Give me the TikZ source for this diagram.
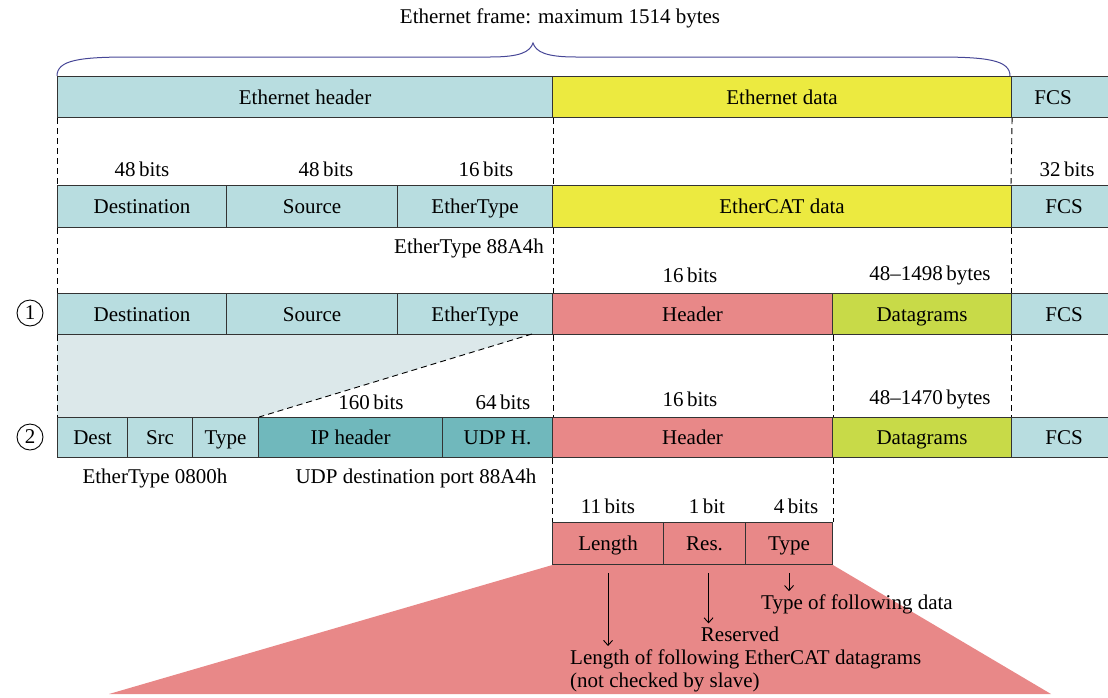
\documentclass[tikz,border=0pt]{standalone}
\usepackage{fontspec}
\setmainfont{Liberation Serif}
\usetikzlibrary{arrows.meta,backgrounds}

\definecolor{ethblue}{RGB}{184,221,224}
\definecolor{ethyellow}{RGB}{236,234,64}
\definecolor{hdrred}{RGB}{232,136,136}
\definecolor{dgreen}{RGB}{200,218,72}
\definecolor{ipteal}{RGB}{112,184,188}
\definecolor{zoomshade}{RGB}{220,232,234}
\definecolor{bracecol}{RGB}{70,70,150}

\tikzset{
  x=1pt, y=-1pt,
  txt/.style={font=\fontsize{21}{24}\selectfont, inner sep=0pt},
  field/.style={txt, draw=black!80, line width=1.1pt, anchor=north west,
                text height=15pt, text depth=1pt},
  guide/.style={draw=black, line width=0.9pt, dash pattern=on 6pt off 4pt},
  numcirc/.style={txt, circle, draw=black, line width=0.9pt, minimum size=26pt},
  arr/.style={draw=black, line width=0.9pt, shorten >=3pt,
              -{Straight Barb[length=5pt,width=9pt]}}
}

% field{name}{colour}{x1}{y1}{x2}{y2}{text}
\newcommand\field[7]{%
  \node[field, fill=#2, minimum width={#5pt-#3pt}, minimum height={#6pt-#4pt}] (#1) at (#3,#4) {#7};}

\begin{document}
\begin{tikzpicture}
\useasboundingbox (0,0) rectangle (1108,697);

% overall frame and brace
\node[txt] (title) at (560,18) {Ethernet frame: maximum 1514 bytes};
\draw[bracecol, line width=1pt] (57,76) .. controls (57,60) and (80,57) .. (130,57) -- (490,57)
  .. controls (520,57) and (530,52) .. (533,43) .. controls (536,52) and (546,57) .. (576,57)
  -- (937,57) .. controls (987,57) and (1010,60) .. (1010,76);

% row 0: Ethernet frame
\field{eh}{ethblue}{57}{76}{552}{117}{Ethernet header}
\field{ed}{ethyellow}{552}{76}{1011}{117}{Ethernet data}
\field{fcs0}{ethblue}{1011}{76}{1116}{117}{FCS\hspace*{22pt}}

% row 1: EtherCAT in Ethernet
\node[txt] (b1a) at (142,169) {48\,bits};
\node[txt] (b1b) at (326,169) {48\,bits};
\node[txt] (b1c) at (486,169) {16\,bits};
\node[txt] (b1d) at (1067,169) {32\,bits};
\field{dst1}{ethblue}{57}{185}{226}{227}{Destination}
\field{src1}{ethblue}{226}{185}{397}{227}{Source}
\field{et1}{ethblue}{397}{185}{552}{227}{EtherType}
\field{ecd1}{ethyellow}{552}{185}{1011}{227}{EtherCAT data}
\field{fcs1}{ethblue}{1011}{185}{1116}{227}{FCS}
\node[txt, anchor=east] (ety1) at (544,248) {EtherType 88A4h};

% row 2: variant 1
\node[numcirc] (c1) at (30,313) {1};
\node[txt] (b2a) at (690,275) {16\,bits};
\node[txt] (b2b) at (930,275) {48–1498\,bytes};
\field{dst2}{ethblue}{57}{293}{226}{334}{Destination}
\field{src2}{ethblue}{226}{293}{397}{334}{Source}
\field{et2}{ethblue}{397}{293}{552}{334}{EtherType}
\field{hdr2}{hdrred}{552}{293}{832}{334}{Header}
\field{dg2}{dgreen}{832}{293}{1011}{334}{Datagrams}
\field{fcs2}{ethblue}{1011}{293}{1116}{334}{FCS}

% row 3: variant 2 (UDP/IP)
\node[numcirc] (c2) at (30,437) {2};
\node[txt] (b3a) at (371,402) {160\,bits};
\node[txt] (b3b) at (503,402) {64\,bits};
\node[txt] (b3c) at (690,399) {16\,bits};
\node[txt] (b3d) at (930,399) {48–1470\,bytes};
\field{dst3}{ethblue}{57}{417}{127}{457}{Dest}
\field{src3}{ethblue}{127}{417}{192}{457}{Src}
\field{typ3}{ethblue}{192}{417}{258}{457}{Type}
\field{ip3}{ipteal}{258}{417}{442}{457}{IP header}
\field{udp3}{ipteal}{442}{417}{552}{457}{UDP H.}
\field{hdr3}{hdrred}{552}{417}{832}{457}{Header}
\field{dg3}{dgreen}{832}{417}{1011}{457}{Datagrams}
\field{fcs3}{ethblue}{1011}{417}{1116}{457}{FCS}
\node[txt] (ety3) at (155,478) {EtherType 0800h};
\node[txt] (udpp) at (416,478) {UDP destination port 88A4h};

% EtherCAT header detail
\node[txt] (b4a) at (608,506) {11\,bits};
\node[txt] (b4b) at (707,506) {1\,bit};
\node[txt] (b4c) at (796,506) {4\,bits};
\field{len}{hdrred}{552}{522}{663}{564}{Length}
\field{res}{hdrred}{663}{522}{745}{564}{Res.}
\field{typ}{hdrred}{745}{522}{832}{564}{Type}

\node[txt] (typtxt) at (857,604) {Type of following data};
\node[txt] (restxt) at (740,634) {Reserved};
\node[txt, anchor=north west, align=left] (lentxt) at (570,649)
  {Length of following EtherCAT datagrams\\(not checked by slave)};

\draw[arr] ([yshift=-8pt]len.south) -- (len.south |- lentxt.north);
\draw[arr] ([yshift=-8pt,xshift=4pt]res.south) -- ([xshift=4pt]res.south |- restxt.north);
\draw[arr] ([yshift=-8pt]typ.south) -- (typ.south |- typtxt.north);

% dashed guides between rows
\coordinate (slant) at (532,334);
\draw[guide] (eh.south west) -- (dst1.north west);
\draw[guide] (eh.south east) -- (et1.north east);
\draw[guide] (ed.south east) -- (fcs1.north west);
\draw[guide] (dst1.south west) -- (dst2.north west);
\draw[guide] (et1.south east) -- (et2.north east);
\draw[guide] (fcs1.south west) -- (fcs2.north west);
\draw[guide] (dst2.south west) -- (dst3.north west);
\draw[guide] (et2.south east) -- (udp3.north east);
\draw[guide] (hdr2.south east) -- (hdr3.north east);
\draw[guide] (fcs2.south west) -- (fcs3.north west);
\draw[guide] (hdr3.south west) -- (len.north west);
\draw[guide] (hdr3.south east) -- (typ.north east);
\draw[guide] (slant) -- (typ3.north east);

\begin{pgfonlayer}{background}
  \fill[zoomshade] (dst2.south west) -- (slant) -- (typ3.north east) -- (dst3.north west) -- cycle;
  \fill[hdrred] (len.south west) -- (typ.south east) -- (1051,694) -- (109,694) -- cycle;
\end{pgfonlayer}
\end{tikzpicture}
\end{document}
